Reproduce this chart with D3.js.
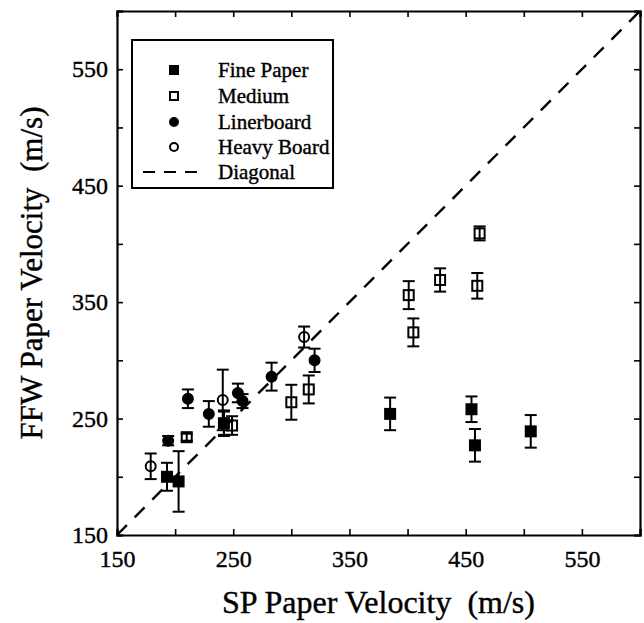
<!DOCTYPE html>
<html>
<head>
<meta charset="utf-8">
<script src="https://cdn.jsdelivr.net/npm/d3@7"></script>
<style>
  body { margin: 0; background: #fff; }
  svg { display: block; }
  text { font-family: "Liberation Serif", "Times New Roman", serif; fill: #000; stroke: #000; stroke-width: 0.4px; }
</style>
</head>
<body>
<svg id="chart"></svg>
<script>
const width = 644;
const height = 623;
const margin = { top: 11, right: 4, bottom: 88, left: 117 };

// Data: [SP velocity, FFW velocity, error]
const finePaper = [[193, 200, 12], [203, 196, 26], [242, 246, 10], [385, 254, 14],
                   [455, 258, 11], [458, 227, 14], [506, 239, 14]];
const medium = [[210, 234, 3], [249, 244, 8], [300, 264, 15], [315, 275, 12],
                [401, 356, 12], [405, 324, 12], [428, 369, 10], [460, 364, 11], [462, 409, 6]];
const linerboard = [[194, 231, 4], [211, 267, 8], [229, 254, 11], [242, 246, 11],
                    [254, 272, 8], [258, 265, 6], [283, 286, 12], [320, 300, 10]];
const heavyBoard = [[179, 209, 11], [241, 266, 26], [311, 320, 9]];

const seriesNames = ["Fine Paper", "Medium", "Linerboard", "Heavy Board"];
const seriesShapes = ["square", "square", "circle", "circle"];
const seriesFilled = [true, false, true, false];
const tickValues = [150, 200, 250, 300, 350, 400, 450, 500, 550, 600];
const labelValues = [150, 250, 350, 450, 550];

const series = [finePaper, medium, linerboard, heavyBoard];

const svg = d3.select("#chart").attr("width", width).attr("height", height);

// Scales
const x = d3.scaleLinear().domain([150, 600]).range([margin.left, width - margin.right]);
const y = d3.scaleLinear().domain([150, 600]).range([height - margin.bottom, margin.top]);

const fmt = d => labelValues.includes(d) ? d : "";

// Axes (ticks point inward on all four sides)
svg.append("g")
   .attr("transform", `translate(0, ${y(150)})`)
   .call(d3.axisBottom(x).tickValues(tickValues).tickSize(-6).tickPadding(15).tickFormat(fmt));
svg.append("g")
   .attr("transform", `translate(0, ${y(600)})`)
   .call(d3.axisTop(x).tickValues(tickValues).tickSize(-6).tickFormat(""));
svg.append("g")
   .attr("transform", `translate(${x(150)}, 0)`)
   .call(d3.axisLeft(y).tickValues(tickValues).tickSize(-6).tickPadding(9).tickFormat(fmt));
svg.append("g")
   .attr("transform", `translate(${x(600)}, 0)`)
   .call(d3.axisRight(y).tickValues(tickValues).tickSize(-6).tickFormat(""));

svg.selectAll(".domain").attr("stroke", "#000").attr("stroke-width", 2.2);
svg.selectAll(".tick line").attr("stroke", "#000").attr("stroke-width", 1.6);
svg.selectAll(".tick text").style("font-size", "24px").style("font-family", "Liberation Serif");

// Diagonal
svg.append("line")
   .attr("x1", x(150)).attr("y1", y(150))
   .attr("x2", x(600)).attr("y2", y(600))
   .attr("stroke", "#000")
   .attr("stroke-width", 2.4)
   .attr("stroke-dasharray", "14,11");

// Marker helper
function drawMarker(g, shape, filled, cx, cy, size) {
  if (shape === "square") {
    g.append("rect")
     .attr("x", cx - size / 2).attr("y", cy - size / 2)
     .attr("width", size).attr("height", size)
     .attr("fill", filled ? "#000" : "none")
     .attr("stroke", "#000").attr("stroke-width", 2);
  } else {
    g.append("circle")
     .attr("cx", cx).attr("cy", cy).attr("r", size / 2)
     .attr("fill", filled ? "#000" : "none")
     .attr("stroke", "#000").attr("stroke-width", 2);
  }
}

// Points with error bars
series.forEach((data, i) => {
  const g = svg.append("g").attr("class", "series");
  data.forEach(d => {
    const cx = x(d[0]);
    g.append("line")
     .attr("x1", cx).attr("x2", cx)
     .attr("y1", y(d[1] - d[2])).attr("y2", y(d[1] + d[2]))
     .attr("stroke", "#000").attr("stroke-width", 2);
    [d[1] - d[2], d[1] + d[2]].forEach(v => {
      g.append("line")
       .attr("x1", cx - 6).attr("x2", cx + 6)
       .attr("y1", y(v)).attr("y2", y(v))
       .attr("stroke", "#000").attr("stroke-width", 2);
    });
    drawMarker(g, seriesShapes[i], seriesFilled[i], cx, y(d[1]), 10);
  });
});

// Legend
const legend = svg.append("g").attr("id", "legend");
legend.append("rect")
      .attr("x", 132).attr("y", 40)
      .attr("width", 201).attr("height", 148)
      .attr("fill", "#fff")
      .attr("stroke", "#000").attr("stroke-width", 2);

const rowY = [70, 96, 122, 147, 172];
seriesNames.forEach((name, i) => {
  drawMarker(legend, seriesShapes[i], seriesFilled[i], 174, rowY[i], 8);
  legend.append("text")
        .attr("x", 218).attr("y", rowY[i])
        .attr("dy", "0.33em")
        .style("font-size", "21px")
        .text(name);
});
legend.append("line")
      .attr("x1", 143).attr("x2", 205)
      .attr("y1", rowY[4]).attr("y2", rowY[4])
      .attr("stroke", "#000").attr("stroke-width", 2)
      .attr("stroke-dasharray", "12,9");
legend.append("text")
      .attr("x", 218).attr("y", rowY[4])
      .attr("dy", "0.33em")
      .style("font-size", "21px")
      .text("Diagonal");

// Axis titles
svg.append("text")
   .attr("x", (x(150) + x(600)) / 2)
   .attr("y", 613)
   .attr("text-anchor", "middle")
   .style("font-size", "32px")
   .attr("xml:space", "preserve")
   .text("SP Paper Velocity  (m/s)");

svg.append("text")
   .attr("transform", `translate(42, ${(y(150) + y(600)) / 2}) rotate(-90)`)
   .attr("text-anchor", "middle")
   .style("font-size", "31px")
   .attr("xml:space", "preserve")
   .text("FFW Paper Velocity  (m/s)");
</script>
</body>
</html>
